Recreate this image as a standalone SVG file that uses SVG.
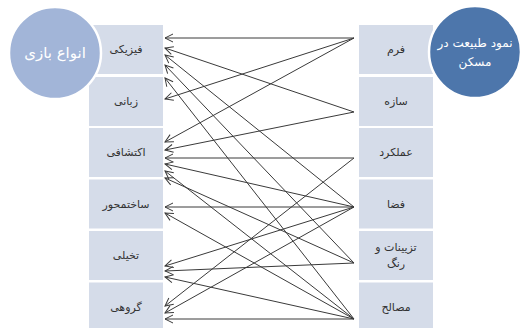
<svg xmlns="http://www.w3.org/2000/svg" width="526" height="328" viewBox="0 0 526 328">
<defs>
<marker id="arr" viewBox="-1 -5 10 10" markerWidth="10" markerHeight="10" refX="0" refY="0" orient="auto" markerUnits="userSpaceOnUse">
<path d="M8,-4 L0,0 L8,4" fill="none" stroke="#3a3a3a" stroke-width="1"/>
</marker>
<style>
.box{fill:#d5dce9;}
.lbl{font-family:"DejaVu Sans",sans-serif;font-size:11px;fill:#333;text-anchor:middle;}
.ctxt{font-family:"DejaVu Sans",sans-serif;fill:#fff;text-anchor:middle;}
.c line{stroke:#3a3a3a;stroke-width:1;marker-start:url(#arr);}
</style>
</defs>
<rect width="526" height="328" fill="#fff"/>
<g id="left-boxes">
<g id="n-fiziki"><rect class="box" x="89" y="25" width="74" height="49"/><text class="lbl" x="126" y="53">فیزیکی</text></g>
<g id="n-zabani"><rect class="box" x="89" y="77" width="74" height="49"/><text class="lbl" x="126" y="105">زبانی</text></g>
<g id="n-ekteshafi"><rect class="box" x="89" y="128" width="74" height="49"/><text class="lbl" x="126" y="156">اکتشافی</text></g>
<g id="n-sakht"><rect class="box" x="89" y="179.5" width="74" height="49"/><text class="lbl" x="126" y="208">ساختمحور</text></g>
<g id="n-takhayoli"><rect class="box" x="89" y="231" width="74" height="49"/><text class="lbl" x="126" y="259">تخیلی</text></g>
<g id="n-gorouhi"><rect class="box" x="89" y="282.5" width="74" height="49"/><text class="lbl" x="126" y="311">گروهی</text></g>
</g>
<g id="right-boxes">
<g id="n-form"><rect class="box" x="359" y="25" width="74" height="49"/><text class="lbl" x="396" y="53">فرم</text></g>
<g id="n-saze"><rect class="box" x="359" y="77" width="74" height="49"/><text class="lbl" x="396" y="105">سازه</text></g>
<g id="n-amalkard"><rect class="box" x="359" y="128" width="74" height="49"/><text class="lbl" x="396" y="156">عملکرد</text></g>
<g id="n-faza"><rect class="box" x="359" y="179.5" width="74" height="49"/><text class="lbl" x="396" y="208">فضا</text></g>
<g id="n-tazyinat"><rect class="box" x="359" y="231" width="74" height="49"/><text class="lbl" x="396" y="251">تزیینات و</text><text class="lbl" x="396" y="267">رنگ</text></g>
<g id="n-masaleh"><rect class="box" x="359" y="282.5" width="74" height="49"/><text class="lbl" x="396" y="311">مصالح</text></g>
</g>
<g id="n-anvae-bazi"><circle cx="55" cy="53" r="46" fill="#a2b5d8" stroke="#fff" stroke-width="2.5"/><text class="ctxt" x="55" y="58" font-size="15">انواع بازی</text></g>
<g id="n-nemood"><circle cx="475" cy="52" r="46" fill="#4d76ab" stroke="#fff" stroke-width="2.5"/><text class="ctxt" x="475" y="47" font-size="12">نمود طبیعت در</text><text class="ctxt" x="475" y="66" font-size="12">مسکن</text></g>
<g id="connectors" class="c">
<line x1="165" y1="38" x2="354" y2="38"/>
<line x1="165" y1="99" x2="354" y2="38"/>
<line x1="165" y1="142" x2="354" y2="38"/>
<line x1="165" y1="48" x2="354" y2="112"/>
<line x1="165" y1="150" x2="354" y2="112"/>
<line x1="165" y1="158" x2="354" y2="158"/>
<line x1="165" y1="306" x2="354" y2="158"/>
<line x1="165" y1="55" x2="354" y2="207"/>
<line x1="165" y1="164" x2="354" y2="207"/>
<line x1="165" y1="207" x2="354" y2="207"/>
<line x1="165" y1="266" x2="354" y2="207"/>
<line x1="165" y1="313" x2="354" y2="207"/>
<line x1="165" y1="65" x2="354" y2="263"/>
<line x1="165" y1="178" x2="354" y2="263"/>
<line x1="165" y1="271" x2="354" y2="263"/>
<line x1="165" y1="78" x2="354" y2="319"/>
<line x1="165" y1="171" x2="354" y2="319"/>
<line x1="165" y1="213" x2="354" y2="319"/>
<line x1="165" y1="277" x2="354" y2="319"/>
<line x1="165" y1="319" x2="354" y2="319"/>
</g>
</svg>
